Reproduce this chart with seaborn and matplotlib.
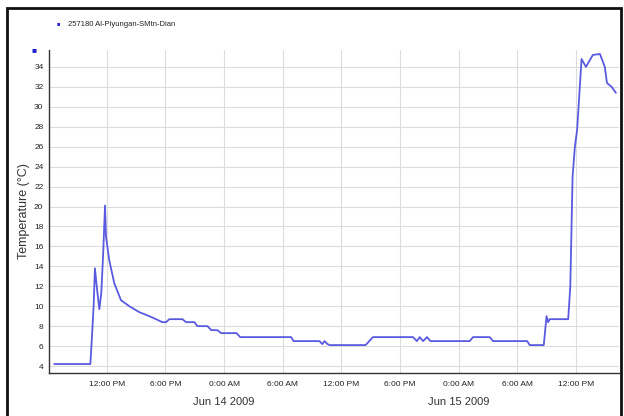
import pandas as pd
import seaborn as sns
import matplotlib.pyplot as plt
import matplotlib.dates as mdates
from matplotlib.patches import Rectangle
from matplotlib.ticker import MultipleLocator

# logger readings
times = [
    "2009-06-13 06:37", "2009-06-13 10:19", "2009-06-13 10:29", "2009-06-13 10:39",
    "2009-06-13 10:47", "2009-06-13 11:00", "2009-06-13 11:14", "2009-06-13 11:26",
    "2009-06-13 11:38", "2009-06-13 11:49", "2009-06-13 11:55", "2009-06-13 12:15",
    "2009-06-13 12:46", "2009-06-13 13:27", "2009-06-13 14:18", "2009-06-13 15:20",
    "2009-06-13 16:21", "2009-06-13 17:02", "2009-06-13 17:41", "2009-06-13 18:04",
    "2009-06-13 18:24", "2009-06-13 19:44", "2009-06-13 20:07", "2009-06-13 20:58",
    "2009-06-13 21:16", "2009-06-13 22:18", "2009-06-13 22:41", "2009-06-13 23:19",
    "2009-06-13 23:42", "2009-06-14 01:16", "2009-06-14 01:39", "2009-06-14 06:52",
    "2009-06-14 07:07", "2009-06-14 09:46", "2009-06-14 10:03", "2009-06-14 10:17",
    "2009-06-14 10:35", "2009-06-14 10:48", "2009-06-14 14:29", "2009-06-14 15:14",
    "2009-06-14 19:20", "2009-06-14 19:44", "2009-06-14 20:01", "2009-06-14 20:22",
    "2009-06-14 20:46", "2009-06-14 21:07", "2009-06-15 01:08", "2009-06-15 01:29",
    "2009-06-15 03:11", "2009-06-15 03:32", "2009-06-15 07:01", "2009-06-15 07:17",
    "2009-06-15 08:43", "2009-06-15 09:00", "2009-06-15 09:10", "2009-06-15 09:20",
    "2009-06-15 11:13", "2009-06-15 11:26", "2009-06-15 11:40", "2009-06-15 11:54",
    "2009-06-15 12:08", "2009-06-15 12:35", "2009-06-15 13:02", "2009-06-15 13:44",
    "2009-06-15 14:28", "2009-06-15 14:58", "2009-06-15 15:11", "2009-06-15 15:40",
    "2009-06-15 16:06",
]
temps = [
    4.2, 4.2, 7.0, 10.0,
    13.8, 11.7, 9.7, 11.3,
    15.4, 20.1, 17.0, 14.6,
    12.3, 10.6, 10.0, 9.4,
    9.0, 8.7, 8.4, 8.4,
    8.7, 8.7, 8.4, 8.4,
    8.0, 8.0, 7.6, 7.6,
    7.3, 7.3, 6.9, 6.9,
    6.5, 6.5, 6.2, 6.5,
    6.2, 6.1, 6.1, 6.9,
    6.9, 6.5, 6.9, 6.5,
    6.9, 6.5, 6.5, 6.9,
    6.9, 6.5, 6.5, 6.1,
    6.1, 9.0, 8.4, 8.7,
    8.7, 12.0, 23.0, 26.0,
    27.7, 34.8, 34.0, 35.2,
    35.3, 34.0, 32.4, 32.0,
    31.4,
]
series_name = "257180 Al-Piyungan-SMtn-Dian"
y_ticks = list(range(4, 35, 2))
date_labels = ["Jun 14 2009", "Jun 15 2009"]
date_positions = ["2009-06-14 00:00", "2009-06-15 00:00"]

df = pd.DataFrame({"time": pd.to_datetime(times), "temp": temps})

sns.set_style("white")
plt.rcParams["font.family"] = ["Liberation Sans", "DejaVu Sans"]

fig = plt.figure(figsize=(6.24, 4.16), dpi=100)
ax = fig.add_axes([49 / 624, 43 / 416, 570 / 624, 323 / 416])

sns.lineplot(data=df, x="time", y="temp", ax=ax, color="#5a5ae0", linewidth=1.3)

ax.set_xlim(pd.Timestamp("2009-06-13 06:05"), pd.Timestamp("2009-06-15 16:25"))
ax.set_ylim(3.3, 35.7)
ax.set_yticks(y_ticks)
ax.yaxis.set_minor_locator(MultipleLocator(1))
ax.xaxis.set_major_locator(mdates.HourLocator(byhour=[0, 6, 12, 18]))
ax.xaxis.set_minor_locator(mdates.HourLocator())


def fmt_time(x, pos=None):
    h = mdates.num2date(x).hour
    if h == 0:
        return "0:00 AM"
    if h < 12:
        return f"{h}:00 AM"
    if h == 12:
        return "12:00 PM"
    return f"{h - 12}:00 PM"


ax.xaxis.set_major_formatter(plt.FuncFormatter(fmt_time))

ax.grid(True, which="major", color="#dcdcdc", linewidth=0.8)
for side in ["top", "right"]:
    ax.spines[side].set_visible(False)
for side in ["left", "bottom"]:
    ax.spines[side].set_color("#333333")
    ax.spines[side].set_linewidth(1.0)

ax.tick_params(axis="both", which="major", labelsize=6, length=4, width=0.8,
               color="#333333", direction="inout", pad=2, labelcolor="#222222")
ax.tick_params(axis="both", which="minor", length=2.5, width=0.7, color="#333333",
               direction="inout")
ax.tick_params(axis="x", which="major", pad=4)

ax.set_xlabel("")
ax.set_ylabel("Temperature (°C)", fontsize=9, color="#333333")
ax.yaxis.set_label_coords(-0.033, 0.5)

for lbl, pos in zip(date_labels, date_positions):
    ax.text(mdates.date2num(pd.Timestamp(pos)), -0.09, lbl, transform=ax.get_xaxis_transform(),
            ha="center", va="center", fontsize=8, color="#333333")

# legend entry and small marker at top left
fig.text(58 / 624, 1 - 24 / 416, "\u25a0", color="#2020d0", fontsize=4, ha="center", va="center")
fig.text(68 / 624, 1 - 24 / 416, series_name, fontsize=5.5, color="#222222", ha="left", va="center")
fig.text(34 / 624, 1 - 51 / 416, "\u25a0", color="#2020d0", fontsize=6, ha="center", va="center")

# outer frame
fig.patches.append(Rectangle((7 / 624, -0.05), 614 / 624, 1.05 - 8 / 416, transform=fig.transFigure,
                             fill=False, edgecolor="#111111", linewidth=2))

fig.savefig("out.png", dpi=100)
